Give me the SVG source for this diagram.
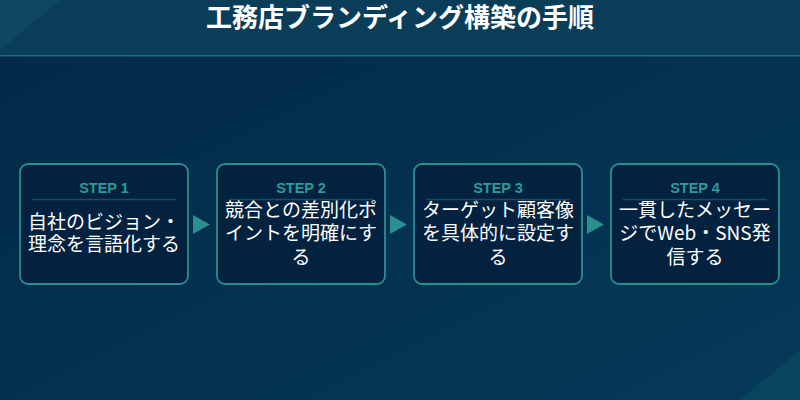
<svg xmlns="http://www.w3.org/2000/svg" width="800" height="400" viewBox="0 0 800 400">
  <defs>
    <linearGradient id="bodyGrad" x1="0" y1="0" x2="1" y2="1">
      <stop offset="0" stop-color="#032848"/>
      <stop offset="1" stop-color="#053a58"/>
    </linearGradient>
    <style>
      .box { fill: #02223f; stroke: #2a8e8e; stroke-width: 1.8; }
      .sep { stroke: #1d4c68; stroke-width: 1.5; }
      .step { fill: #2c9c99; font-family: "Liberation Sans", "Noto Sans CJK JP", sans-serif; font-size: 14.5px; font-weight: bold; text-anchor: middle; }
      .label { fill: #ffffff; font-family: "Noto Sans CJK JP", sans-serif; font-size: 19px; text-anchor: middle; }
      .title { fill: #ffffff; font-family: "Noto Sans CJK JP", sans-serif; font-size: 26px; font-weight: bold; text-anchor: middle; }
      .arrow { fill: #2a9090; }
    </style>
  </defs>
  <!-- background -->
  <rect x="0" y="0" width="800" height="400" fill="url(#bodyGrad)"/>
  <rect x="0" y="0" width="800" height="55" fill="#0a3e58"/>
  <polygon points="0,0 60,0 0,50" fill="#0f4a62" opacity="0.8"/>
  <polygon points="800,350 800,400 740,400" fill="#0a4560"/>
  <rect x="0" y="55" width="800" height="1.5" fill="#1b6b7a"/>
  <text class="title" x="400" y="26.5">工務店ブランディング構築の手順</text>

  <g id="connectors">
    <polygon class="arrow" points="193,215 210,224.5 193,234"/>
    <polygon class="arrow" points="390,215 407,224.5 390,234"/>
    <polygon class="arrow" points="587,215 604,224.5 587,234"/>
  </g>

  <g id="step1">
    <rect class="box" x="20" y="164" width="168" height="120" rx="8"/>
    <text class="step" x="104" y="193">STEP 1</text>
    <line class="sep" x1="32" y1="199.5" x2="176" y2="199.5"/>
    <text class="label" x="104" y="229">自社のビジョン・</text>
    <text class="label" x="104" y="251">理念を言語化する</text>
  </g>

  <g id="step2">
    <rect class="box" x="217" y="164" width="168" height="120" rx="8"/>
    <text class="step" x="301" y="193">STEP 2</text>
    <line class="sep" x1="229" y1="199.5" x2="373" y2="199.5"/>
    <text class="label" x="301" y="217">競合との差別化ポ</text>
    <text class="label" x="301" y="240">イントを明確にす</text>
    <text class="label" x="301" y="264">る</text>
  </g>

  <g id="step3">
    <rect class="box" x="414" y="164" width="168" height="120" rx="8"/>
    <text class="step" x="498" y="193">STEP 3</text>
    <line class="sep" x1="426" y1="199.5" x2="570" y2="199.5"/>
    <text class="label" x="498" y="217">ターゲット顧客像</text>
    <text class="label" x="498" y="240">を具体的に設定す</text>
    <text class="label" x="498" y="264">る</text>
  </g>

  <g id="step4">
    <rect class="box" x="611" y="164" width="168" height="120" rx="8"/>
    <text class="step" x="695" y="193">STEP 4</text>
    <line class="sep" x1="623" y1="199.5" x2="767" y2="199.5"/>
    <text class="label" x="695" y="217">一貫したメッセー</text>
    <text class="label" x="695" y="240">ジでWeb・SNS発</text>
    <text class="label" x="695" y="264">信する</text>
  </g>
</svg>
